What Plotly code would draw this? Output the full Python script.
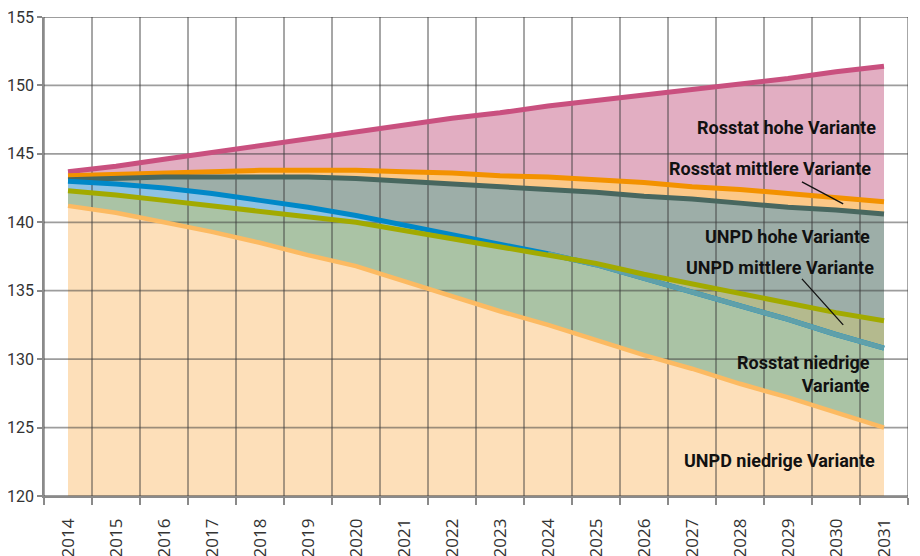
import plotly.graph_objects as go

years = list(range(2014, 2032))

rosstat_high = [143.7, 144.1, 144.6, 145.1, 145.6, 146.1, 146.6, 147.1, 147.6,
                148.0, 148.5, 148.9, 149.3, 149.7, 150.1, 150.5, 151.0, 151.4]
rosstat_mid = [143.4, 143.5, 143.6, 143.7, 143.8, 143.8, 143.8, 143.7, 143.6,
               143.4, 143.3, 143.1, 142.9, 142.6, 142.4, 142.1, 141.8, 141.5]
unpd_high = [143.1, 143.2, 143.3, 143.3, 143.3, 143.3, 143.2, 143.0, 142.8,
             142.6, 142.4, 142.2, 141.9, 141.7, 141.4, 141.1, 140.9, 140.6]
rosstat_low = [143.0, 142.8, 142.5, 142.1, 141.6, 141.1, 140.5, 139.8, 139.1,
               138.4, 137.7, 136.9, 135.9, 134.9, 133.9, 132.9, 131.8, 130.8]
unpd_mid = [142.3, 142.0, 141.6, 141.2, 140.8, 140.4, 140.0, 139.4, 138.8,
            138.2, 137.6, 137.0, 136.2, 135.5, 134.8, 134.1, 133.4, 132.8]
unpd_low = [141.2, 140.7, 140.0, 139.3, 138.5, 137.6, 136.8, 135.7, 134.6,
            133.5, 132.5, 131.4, 130.3, 129.3, 128.2, 127.2, 126.1, 125.0]

y_ticks = [120, 125, 130, 135, 140, 145, 150, 155]
cross_idx = 10  # from 2024 the Rosstat low line drops below UNPD mid

labels = [
    ("Rosstat hohe Variante", 2030.88, 146.95),
    ("Rosstat mittlere Variante", 2030.77, 143.9),
    ("UNPD hohe Variante", 2030.75, 138.93),
    ("UNPD mittlere Variante", 2030.83, 136.67),
    ("Rosstat niedrige<br>Variante", 2030.75, 128.95),
    ("UNPD niedrige Variante", 2030.85, 122.63),
]
leaders = [((2029.29, 142.95), (2030.15, 141.35)),
           ((2029.29, 135.86), (2030.15, 132.5))]

C_PINK, C_ORANGE, C_SLATE = "#c9507f", "#f39200", "#48675f"
C_BLUE, C_OLIVE, C_LORANGE = "#0088c8", "#a2aa00", "#fcba62"


def band(y, fill, color, x=None):
    return go.Scatter(
        x=x if x is not None else years, y=y, mode="lines",
        line=dict(width=0), fill=fill, fillcolor=color,
        showlegend=False, hoverinfo="skip",
    )


fig = go.Figure()

# filled bands between the scenarios
fig.add_trace(band(rosstat_high, "none", None))
fig.add_trace(band(rosstat_mid, "tonexty", "#e2aec2"))
fig.add_trace(band(unpd_high, "tonexty", "#fcc887"))
fig.add_trace(band(unpd_mid, "tonexty", "#9daea8"))
fig.add_trace(band(unpd_low, "tonexty", "#aac3a5"))
fig.add_trace(band(unpd_mid, "none", None))
fig.add_trace(band(rosstat_low, "tonexty", "#8ec2e4"))
fig.add_trace(band(unpd_mid[cross_idx:], "none", None, years[cross_idx:]))
fig.add_trace(band(rosstat_low[cross_idx:], "tonexty", "#b4ba8e", years[cross_idx:]))
fig.add_trace(band(unpd_low, "tozeroy", "#fddfb9"))

# grid on top of the bands
bounds = [y - 0.5 for y in years] + [years[-1] + 0.5]
gx, gy = [], []
for b in bounds:
    gx += [b, b, None]
    gy += [y_ticks[0], y_ticks[-1], None]
for t in y_ticks:
    gx += [bounds[0], bounds[-1], None]
    gy += [t, t, None]
fig.add_trace(go.Scatter(x=gx, y=gy, mode="lines", showlegend=False, hoverinfo="skip",
                         line=dict(color="rgba(60,60,60,0.5)", width=1.8)))

# scenario lines
for y, color, width in [
    (rosstat_high, C_PINK, 5),
    (rosstat_mid, C_ORANGE, 5),
    (unpd_high, C_SLATE, 5),
    (rosstat_low, C_BLUE, 5),
]:
    fig.add_trace(go.Scatter(x=years, y=y, mode="lines", showlegend=False,
                             line=dict(color=color, width=width)))
fig.add_trace(go.Scatter(x=years[cross_idx:], y=rosstat_low[cross_idx:], mode="lines",
                         showlegend=False, line=dict(color="#5fa0aa", width=5)))
for y, color, width in [(unpd_mid, C_OLIVE, 5), (unpd_low, C_LORANGE, 4.5)]:
    fig.add_trace(go.Scatter(x=years, y=y, mode="lines", showlegend=False,
                             line=dict(color=color, width=width)))

for text, x, y in labels:
    fig.add_annotation(x=x, y=y, text=f"<b>{text}</b>", showarrow=False,
                       xanchor="right", yanchor="middle", align="right",
                       font=dict(family="Roboto", size=18, color="#111"))
for (x0, y0), (x1, y1) in leaders:
    fig.add_shape(type="line", x0=x0, y0=y0, x1=x1, y1=y1,
                  line=dict(color="#111", width=1.3))

# the page body adds an 8px offset, margins compensate for it
fig.update_layout(
    width=920, height=556,
    margin=dict(l=36, r=20, t=9, b=68),
    paper_bgcolor="white", plot_bgcolor="white",
    showlegend=False,
    xaxis=dict(
        range=[bounds[0], bounds[-1]], tickmode="array", tickvals=years,
        ticktext=[str(y) for y in years], tickangle=-90, ticks="",
        showgrid=False, zeroline=False, showline=True, linecolor="#8a8a8a", linewidth=1.5,
        tickfont=dict(family="Open Sans", size=17, color="#333"), ticklabelstandoff=14,
        automargin=False,
        minor=dict(tickmode="array", tickvals=bounds, ticks="outside", ticklen=7,
                   tickcolor="#8a8a8a", tickwidth=1.5, showgrid=False),
    ),
    yaxis=dict(
        range=[y_ticks[0], y_ticks[-1]], tickmode="array", tickvals=y_ticks,
        ticks="outside", ticklen=5, tickcolor="#8a8a8a", tickwidth=1.5,
        showgrid=False, zeroline=False, showline=True, linecolor="#8a8a8a", linewidth=1.5,
        tickfont=dict(family="Roboto", size=16, color="#333"), automargin=False,
        ticklabeloverflow="allow",
    ),
)

fig.write_html("out.html")
